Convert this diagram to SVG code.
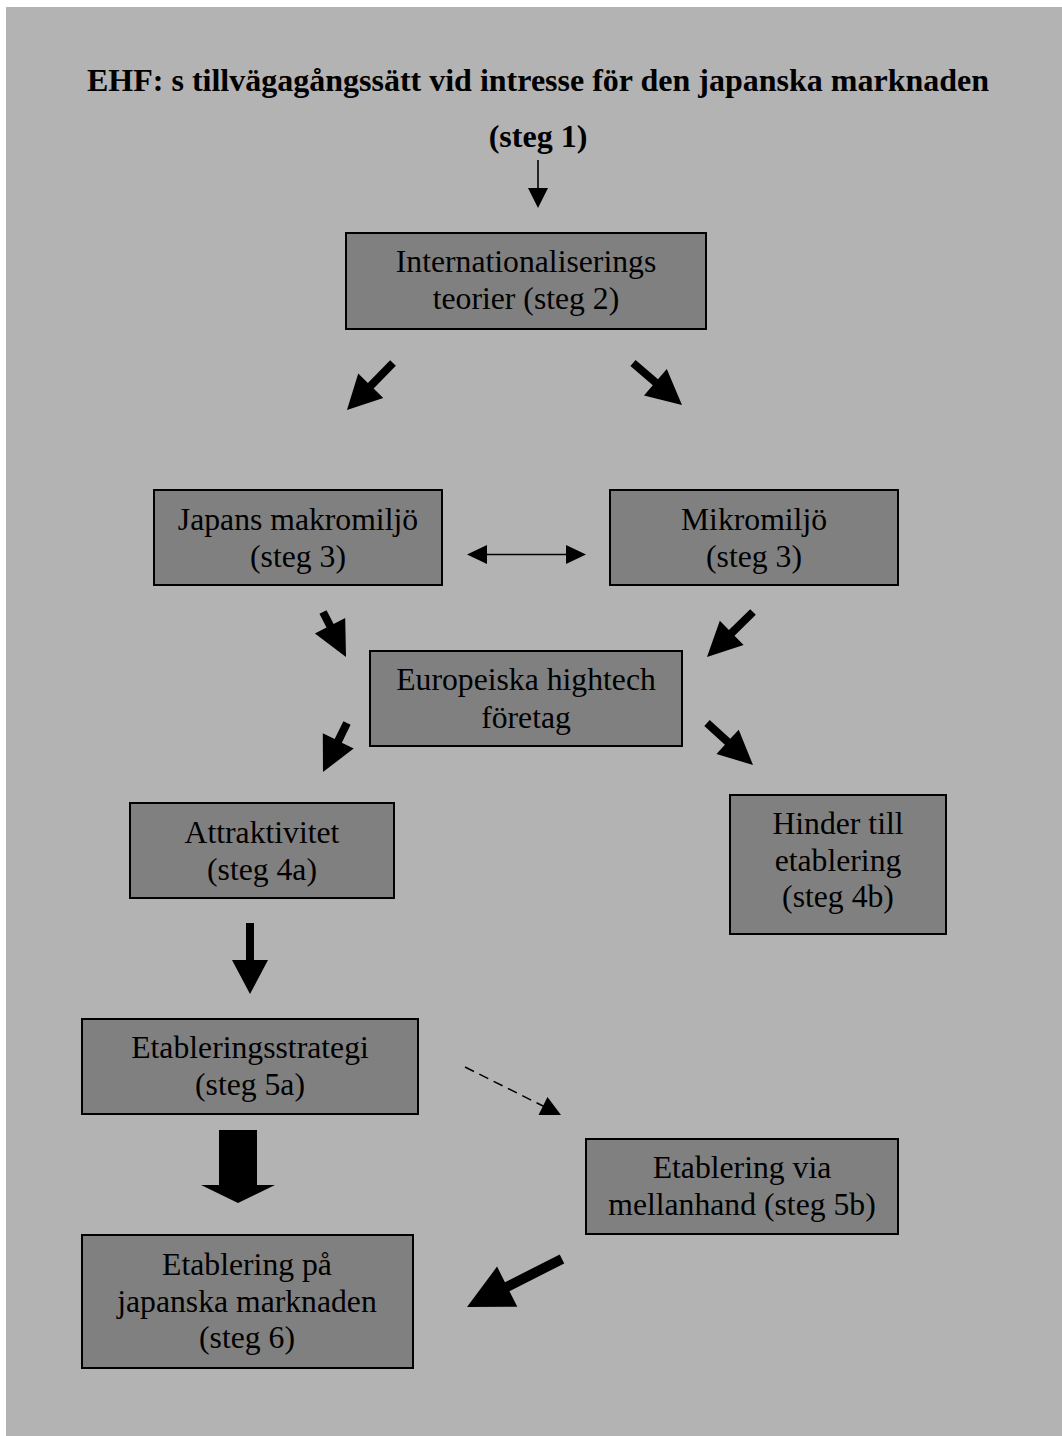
<svg xmlns="http://www.w3.org/2000/svg" width="1062" height="1436" viewBox="0 0 1062 1436">
  <style>
    .box { fill: #808080; stroke: #000; stroke-width: 2; }
    .lbl { font-family: "Liberation Serif", "Times New Roman", serif; font-size: 31.7px; fill: #000; text-anchor: middle; }
    .ttl { font-weight: bold; font-size: 32px; }
    .blk { fill: #000; }
    .thin { stroke: #000; stroke-width: 1.6; fill: none; }
    .dash { stroke: #000; stroke-width: 1.5; fill: none; stroke-dasharray: 10 6; }
  </style>

  <!-- page background -->
  <rect x="0" y="0" width="1062" height="1436" fill="#ffffff"/>
  <rect x="6" y="7" width="1056" height="1429" fill="#b3b3b3"/>

  <!-- heading -->
  <g id="title">
    <text class="lbl ttl" x="538" y="91">EHF: s tillvägagångssätt vid intresse för den japanska marknaden</text>
    <text class="lbl ttl" x="538" y="147">(steg 1)</text>
  </g>

  <!-- nodes -->
  <g id="n-internationalisering">
    <rect class="box" x="346" y="233" width="360" height="96"/>
    <text class="lbl" x="526" y="272">Internationaliserings</text>
    <text class="lbl" x="526" y="309">teorier (steg 2)</text>
  </g>
  <g id="n-makromiljo">
    <rect class="box" x="154" y="490" width="288" height="95"/>
    <text class="lbl" x="298" y="530">Japans makromiljö</text>
    <text class="lbl" x="298" y="567">(steg 3)</text>
  </g>
  <g id="n-mikromiljo">
    <rect class="box" x="610" y="490" width="288" height="95"/>
    <text class="lbl" x="754" y="530">Mikromiljö</text>
    <text class="lbl" x="754" y="567">(steg 3)</text>
  </g>
  <g id="n-europeiska">
    <rect class="box" x="370" y="651" width="312" height="95"/>
    <text class="lbl" x="526" y="690">Europeiska hightech</text>
    <text class="lbl" x="526" y="728">företag</text>
  </g>
  <g id="n-attraktivitet">
    <rect class="box" x="130" y="803" width="264" height="95"/>
    <text class="lbl" x="262" y="843">Attraktivitet</text>
    <text class="lbl" x="262" y="880">(steg 4a)</text>
  </g>
  <g id="n-hinder">
    <rect class="box" x="730" y="795" width="216" height="139"/>
    <text class="lbl" x="838" y="834">Hinder till</text>
    <text class="lbl" x="838" y="871">etablering</text>
    <text class="lbl" x="838" y="907">(steg 4b)</text>
  </g>
  <g id="n-strategi">
    <rect class="box" x="82" y="1019" width="336" height="95"/>
    <text class="lbl" x="250" y="1058">Etableringsstrategi</text>
    <text class="lbl" x="250" y="1095">(steg 5a)</text>
  </g>
  <g id="n-mellanhand">
    <rect class="box" x="586" y="1139" width="312" height="95"/>
    <text class="lbl" x="742" y="1178">Etablering via</text>
    <text class="lbl" x="742" y="1215">mellanhand (steg 5b)</text>
  </g>
  <g id="n-etablering">
    <rect class="box" x="82" y="1235" width="331" height="133"/>
    <text class="lbl" x="247" y="1275">Etablering på</text>
    <text class="lbl" x="247" y="1312">japanska marknaden</text>
    <text class="lbl" x="247" y="1348">(steg 6)</text>
  </g>

  <!-- connectors: block arrows are drawn pointing along +x, then placed with translate/rotate -->
  <g id="connectors">
    <!-- steg 1 to theories -->
    <line class="thin" x1="538" y1="160" x2="538" y2="190"/>
    <polygon class="blk" points="528,188 548,188 538,208"/>

    <!-- theories to macro / micro -->
    <path class="blk" transform="translate(393,363) rotate(134.4)" d="M0,-4 H31.8 V-17.5 L65.8,0 L31.8,17.5 V4 H0 Z"/>
    <path class="blk" transform="translate(633,363) rotate(40.6)" d="M0,-4 H29.5 V-17.5 L64.5,0 L29.5,17.5 V4 H0 Z"/>

    <!-- macro <-> micro -->
    <line class="thin" x1="485" y1="554.5" x2="568" y2="554.5"/>
    <polygon class="blk" points="467,554.5 487,545 487,564"/>
    <polygon class="blk" points="586,554.5 566,545 566,564"/>

    <!-- macro / micro to European hightech firms -->
    <path class="blk" transform="translate(323,612) rotate(62.9)" d="M0,-4 H15.5 V-17 L50.5,0 L15.5,17 V4 H0 Z"/>
    <path class="blk" transform="translate(753,612) rotate(135.6)" d="M0,-4 H29.8 V-17 L64.4,0 L29.8,17 V4 H0 Z"/>

    <!-- firms to attractiveness / barriers -->
    <path class="blk" transform="translate(347,723) rotate(116.1)" d="M0,-4 H19.9 V-17.2 L54.6,0 L19.9,17.2 V4 H0 Z"/>
    <path class="blk" transform="translate(707,723) rotate(42.4)" d="M0,-4 H27.9 V-16.5 L62.3,0 L27.9,16.5 V4 H0 Z"/>

    <!-- attractiveness to strategy -->
    <path class="blk" transform="translate(250,923) rotate(90)" d="M0,-4 H37 V-18 L71,0 L37,18 V4 H0 Z"/>

    <!-- strategy to intermediary (dashed) -->
    <line class="dash" x1="465" y1="1067" x2="544" y2="1106.5"/>
    <polygon class="blk" points="561,1115 538.5,1115 547.5,1097"/>

    <!-- strategy to establishment -->
    <path class="blk" transform="translate(238,1130) rotate(90)" d="M0,-19 H55 V-37 L73,0 L55,37 V19 H0 Z"/>

    <!-- intermediary to establishment -->
    <path class="blk" transform="translate(562,1259) rotate(153.2)" d="M0,-5 H61.4 V-22.5 L106.4,0 L61.4,22.5 V5 H0 Z"/>
  </g>
</svg>
